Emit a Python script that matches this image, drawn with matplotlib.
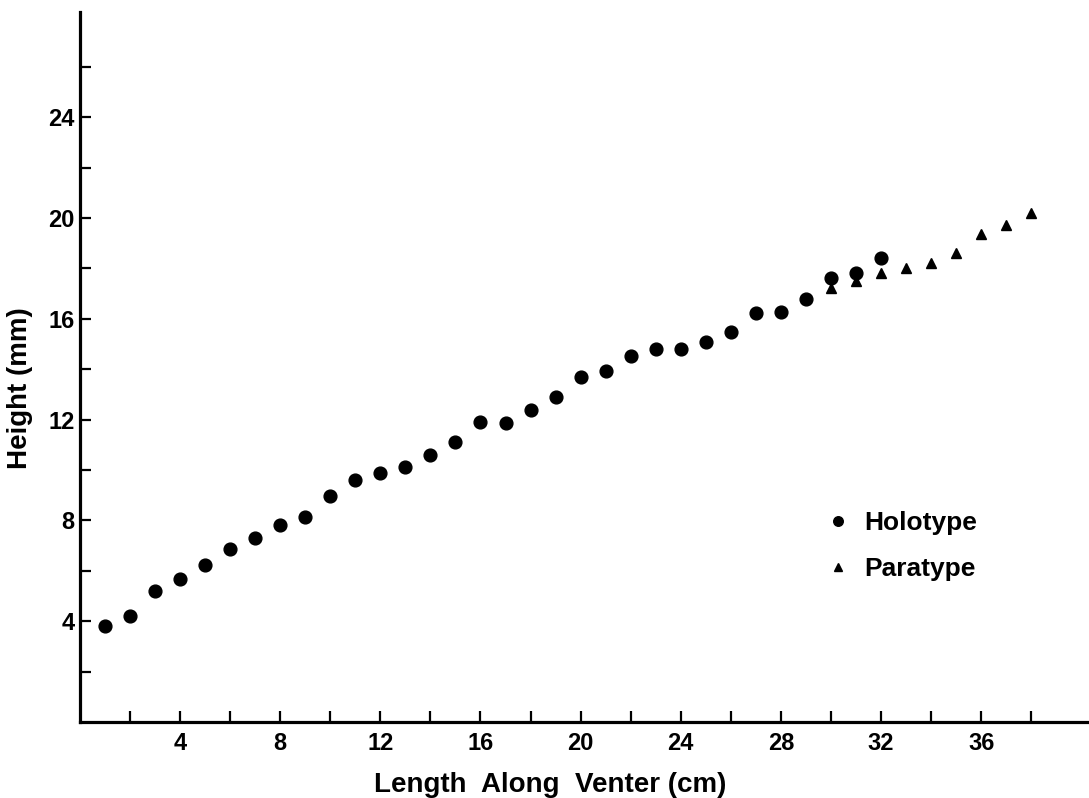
import matplotlib
matplotlib.use("Agg")
import matplotlib.pyplot as plt

# ---- data -------------------------------------------------------------------
holo_x = list(range(1, 33))
holo_y = [3.81, 4.21, 5.20, 5.67, 6.23, 6.87, 7.30, 7.80, 8.13, 8.97,
          9.60, 9.88, 10.12, 10.60, 11.10, 11.90, 11.87, 12.38, 12.88, 13.69,
          13.93, 14.52, 14.80, 14.80, 15.08, 15.48, 16.23, 16.27, 16.80, 17.60,
          17.80, 18.40]

para_x = list(range(30, 39))
para_y = [17.20, 17.50, 17.80, 18.00, 18.20, 18.60, 19.35, 19.70, 20.20]

x_major = [4, 8, 12, 16, 20, 24, 28, 32, 36]
x_minor = [2, 6, 10, 14, 18, 22, 26, 30, 34, 38]
y_major = [4, 8, 12, 16, 20, 24]
y_minor = [2, 6, 10, 14, 18, 22, 26]

plt.rcParams['font.family'] = ['Liberation Sans', 'DejaVu Sans']
plt.rcParams['font.weight'] = 'bold'

fig = plt.figure(figsize=(10.89, 7.98), dpi=100)
ax = fig.add_axes([80 / 1089, 76 / 798, 1008 / 1089, 710 / 798])

ax.plot(holo_x, holo_y, 'o', color='black', markersize=9.2, label='Holotype')
ax.plot(para_x, para_y, '^', color='black', markersize=7.8, label='Paratype')

ax.set_xlim(0, 40.27)
ax.set_ylim(0, 28.17)

# spines: only left and bottom, thick like the printed figure
for side in ['top', 'right']:
    ax.spines[side].set_visible(False)
for side in ['left', 'bottom']:
    ax.spines[side].set_linewidth(2.3)

ax.set_xticks(x_major)
ax.set_xticks(x_minor, minor=True)
ax.set_yticks(y_major)
ax.set_yticks(y_minor, minor=True)

ax.tick_params(axis='both', which='both', direction='in', length=8,
               width=1.6, labelsize=17)
ax.tick_params(axis='x', which='major', pad=7)
ax.tick_params(axis='y', which='major', pad=4)
for lab in ax.get_xticklabels() + ax.get_yticklabels():
    lab.set_fontweight('bold')

ax.set_xlabel('Length  Along  Venter (cm)', fontsize=20, fontweight='bold')
ax.xaxis.set_label_coords(470 / 1008, -50 / 710)
ax.set_ylabel('Height (mm)', fontsize=20, fontweight='bold')
ax.yaxis.set_label_coords(-47 / 1008, 334 / 710)

ax.legend(loc='upper left', bbox_to_anchor=(724 / 1008, 235 / 710),
          frameon=False, markerscale=0.75, handlelength=0.8,
          handletextpad=0.6, labelspacing=0.85,
          prop={'size': 19, 'weight': 'bold'})

fig.savefig('out.png', dpi=100)
